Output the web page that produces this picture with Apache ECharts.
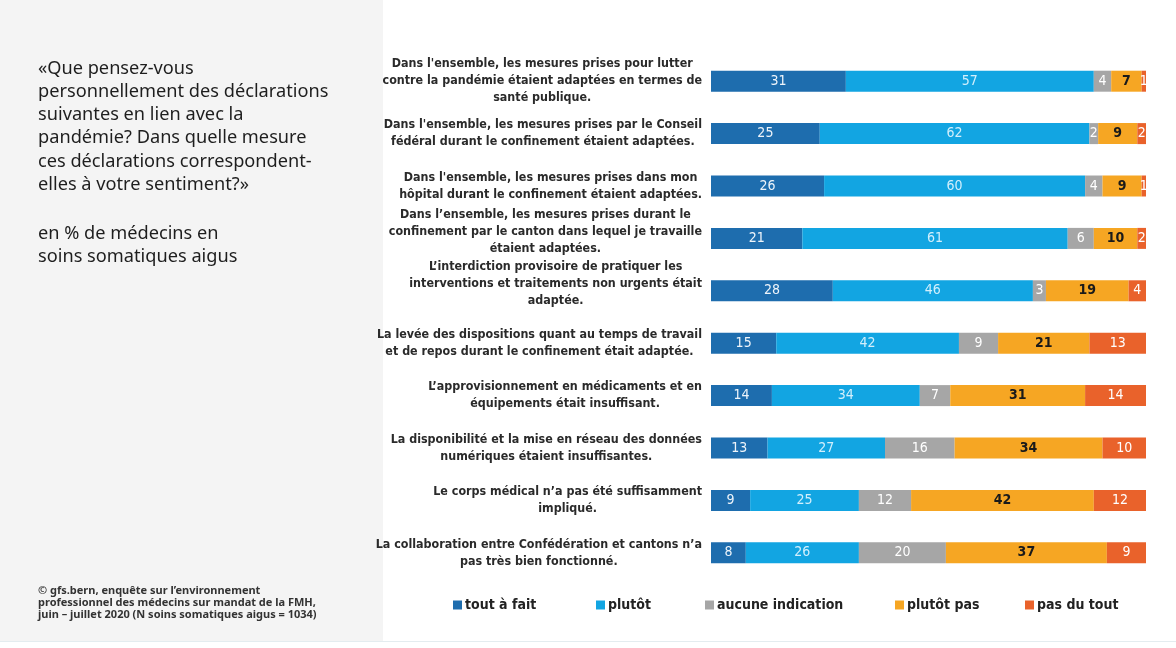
<!DOCTYPE html>
<html>
<head>
<meta charset="utf-8">
<script src="https://cdn.jsdelivr.net/npm/echarts@6/dist/echarts.min.js"></script>
<style>
html,body{margin:0;padding:0;background:#ffffff;}
#c{width:1176px;height:648px;}
</style>
</head>
<body>
<div id="c"></div>
<script>
const categories = [
  "Dans l'ensemble, les mesures prises pour lutter\ncontre la pandémie étaient adaptées en termes de\nsanté publique.",
  "Dans l'ensemble, les mesures prises par le Conseil\nfédéral durant le confinement étaient adaptées.",
  "Dans l'ensemble, les mesures prises dans mon\nhôpital durant le confinement étaient adaptées.",
  "Dans l’ensemble, les mesures prises durant le\nconfinement par le canton dans lequel je travaille\nétaient adaptées.",
  "L’interdiction provisoire de pratiquer les\ninterventions et traitements non urgents était\nadaptée.",
  "La levée des dispositions quant au temps de travail\net de repos durant le confinement était adaptée.",
  "L’approvisionnement en médicaments et en\néquipements était insuffisant.",
  "La disponibilité et la mise en réseau des données\nnumériques étaient insuffisantes.",
  "Le corps médical n’a pas été suffisamment\nimpliqué.",
  "La collaboration entre Confédération et cantons n’a\npas très bien fonctionné."
];
const seriesNames = ["tout à fait", "plutôt", "aucune indication", "plutôt pas", "pas du tout"];
const toutAFait   = [31, 25, 26, 21, 28, 15, 14, 13, 9, 8];
const plutot      = [57, 62, 60, 61, 46, 42, 34, 27, 25, 26];
const aucune      = [4, 2, 4, 6, 3, 9, 7, 16, 12, 20];
const plutotPas   = [7, 9, 9, 10, 19, 21, 31, 34, 42, 37];
const pasDuTout   = [1, 2, 1, 2, 4, 13, 14, 10, 12, 9];

const titleLines = [
  "«Que pensez-vous",
  "personnellement des déclarations",
  "suivantes en lien avec la",
  "pandémie? Dans quelle mesure",
  "ces déclarations correspondent-",
  "elles à votre sentiment?»"
];
const subtitleLines = ["en % de médecins en", "soins somatiques aigus"];
const sourceLines = [
  "© gfs.bern, enquête sur l’environnement",
  "professionnel des médecins sur mandat de la FMH,",
  "juin – juillet 2020 (N soins somatiques aigus = 1034)"
];

const colors = ['#1e6dae', '#12a5e2', '#a6a6a6', '#f6a623', '#e9622b'];
const labelColors = ['#eef4fa', '#d2effc', '#ffffff', '#1a1a1a', '#ffffff'];
const labelWeights = ['normal', 'normal', 'normal', 'bold', 'normal'];
const values = [toutAFait, plutot, aucune, plutotPas, pasDuTout];
const narrow = '"Liberation Sans Narrow", "DejaVu Sans Condensed", sans-serif';

const shiftUp = {3: 14, 4: 14};
const catData = categories.map((c, i) => shiftUp[i] ? {value: c, textStyle: {padding: [0, 0, shiftUp[i], 0]}} : c);

const series = seriesNames.map((n, k) => ({
  name: n,
  type: 'bar',
  stack: 'total',
  barWidth: 21,
  itemStyle: {color: colors[k]},
  label: {
    show: true,
    position: 'inside',
    color: labelColors[k],
    fontWeight: labelWeights[k],
    fontSize: 14,
    fontFamily: narrow
  },
  emphasis: {disabled: true},
  data: values[k]
}));

const legendX = [448, 591, 700, 890, 1020];
const legends = seriesNames.map((n, k) => ({
  data: [n],
  left: legendX[k],
  top: 593,
  itemWidth: 9,
  itemHeight: 9,
  itemGap: 0,
  icon: 'rect',
  textStyle: {fontSize: 14, fontFamily: narrow, color: '#222', fontWeight: 'bold', padding: [0, 0, 0, -2]},
  selectedMode: false
}));

const graphics = [
  {type: 'rect', left: 0, top: 0, shape: {width: 383, height: 642}, style: {fill: '#f4f4f4'}, z: -10},
  {type: 'rect', left: 0, top: 641, shape: {width: 1176, height: 1}, style: {fill: '#e4ecef'}, z: -10},
  {type: 'text', left: 38, top: 57, style: {text: titleLines.join('\n'), font: '18.2px "Noto Sans", sans-serif', lineHeight: 23.2, fill: '#1e1e1e'}},
  {type: 'text', left: 38, top: 222, style: {text: subtitleLines.join('\n'), font: '18.2px "Noto Sans", sans-serif', lineHeight: 23.5, fill: '#1e1e1e'}},
  {type: 'text', left: 38, top: 585, style: {text: sourceLines.join('\n'), font: 'bold 11px "Noto Sans", sans-serif', lineHeight: 12, fill: '#333'}}
];

const chart = echarts.init(document.getElementById('c'), null, {renderer: 'canvas'});
chart.setOption({
  animation: false,
  backgroundColor: '#ffffff',
  graphic: graphics,
  legend: legends,
  grid: {left: 711, right: 30, top: 55, bottom: 69, containLabel: false},
  xAxis: {type: 'value', min: 0, max: 100, show: false},
  yAxis: {
    type: 'category',
    inverse: true,
    data: catData,
    axisLine: {show: false},
    axisTick: {show: false},
    splitLine: {show: false},
    axisLabel: {
      margin: 9,
      align: 'right',
      formatter: (v) => v.split('\n').map(l => '{c|' + l + '}').join('\n'),
      rich: {
        c: {align: 'center', fontSize: 12.4, lineHeight: 17, fontWeight: 'bold', fontFamily: narrow, color: '#2a2a2a'}
      }
    }
  },
  series: series
});
</script>
</body>
</html>
